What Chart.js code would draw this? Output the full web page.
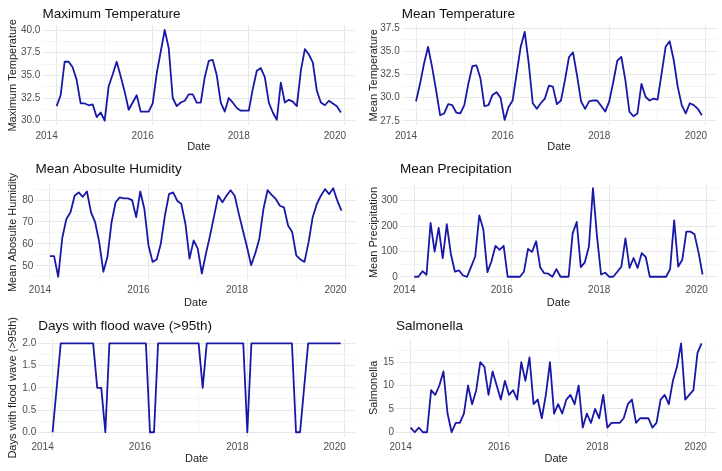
<!DOCTYPE html>
<html>
<head>
<meta charset="utf-8">
<script src="https://cdn.jsdelivr.net/npm/chart.js@4.4.1/dist/chart.umd.min.js"></script>
<style>
  html, body { margin: 0; padding: 0; background: #fff; }
  body { width: 722px; height: 471px; position: relative; overflow: hidden; }
  canvas { position: absolute; }
</style>
</head>
<body>
<canvas id="maxTemp"></canvas>
<canvas id="meanTemp"></canvas>
<canvas id="humidity"></canvas>
<canvas id="precip"></canvas>
<canvas id="flood"></canvas>
<canvas id="salmonella"></canvas>
<script>
// monthly series, Jan 2014 .. Dec 2019
const years = [2014, 2015, 2016, 2017, 2018, 2019];
const months = [];
years.forEach(y => { for (let m = 1; m <= 12; m++) months.push(y + (m - 1) / 12); });

const maxTemp = [31.6, 32.8, 36.5, 36.5, 35.9, 34.5, 31.9, 31.9, 31.7, 31.8, 30.4, 30.9,
  30.0, 33.8, 35.1, 36.5, 34.9, 33.2, 31.2, 32.0, 32.8, 31.0, 31.0, 31.0,
  31.9, 35.2, 37.6, 40.0, 38.0, 32.5, 31.6, 32.0, 32.2, 32.9, 32.9, 32.0,
  32.0, 34.8, 36.6, 36.7, 35.0, 32.0, 31.0, 32.5, 32.0, 31.4, 31.1, 31.1,
  31.1, 33.5, 35.5, 35.8, 34.8, 32.0, 30.9, 30.1, 34.2, 32.0, 32.3, 32.1,
  31.6, 35.5, 37.9, 37.3, 36.4, 33.3, 32.0, 31.7, 32.2, 31.9, 31.6, 30.9];

const meanTemp = [29.6, 31.5, 33.7, 35.5, 33.3, 30.8, 28.1, 28.3, 29.3, 29.2, 28.4, 28.3,
  29.2, 31.5, 33.4, 33.5, 32.1, 29.1, 29.2, 30.3, 30.6, 30.0, 27.6, 29.0,
  29.7, 32.6, 35.5, 37.1, 33.7, 29.4, 28.8, 29.4, 29.9, 31.3, 31.2, 29.3,
  29.7, 31.9, 34.4, 34.9, 32.4, 29.6, 28.8, 29.6, 29.7, 29.7, 29.1, 28.5,
  29.6, 31.7, 34.0, 34.4, 31.9, 28.5, 28.0, 28.3, 31.5, 30.1, 29.7, 29.9,
  29.8, 32.6, 35.5, 36.1, 34.1, 31.2, 29.2, 28.3, 29.4, 29.2, 28.8, 28.1];

const humidity = [54.4, 54.4, 45.0, 62.8, 71.4, 74.4, 82.0, 83.5, 81.5, 83.9, 74.4, 69.9,
  60.8, 47.3, 54.1, 69.9, 79.0, 81.2, 80.8, 80.8, 80.0, 72.2, 83.9, 75.9,
  59.3, 51.8, 52.9, 60.1, 72.9, 82.7, 83.5, 79.7, 78.2, 69.1, 53.3, 61.6,
  57.8, 46.5, 55.6, 63.9, 72.9, 82.0, 79.0, 82.0, 84.5, 82.0, 73.7, 66.1,
  58.6, 50.3, 55.6, 62.4, 75.9, 84.5, 82.4, 80.5, 77.4, 76.7, 68.4, 65.4,
  54.8, 52.9, 51.8, 60.8, 72.2, 78.2, 82.0, 85.0, 82.7, 85.4, 79.7, 75.2];

const precip = [0, 0, 22, 8, 212, 99, 193, 73, 207, 90, 20, 25,
  5, 0, 40, 80, 242, 186, 18, 61, 122, 106, 122, 0,
  0, 0, 0, 20, 110, 98, 140, 38, 14, 12, 0, 30,
  0, 0, 0, 171, 216, 38, 57, 119, 349, 158, 9, 16,
  0, 0, 20, 40, 151, 35, 74, 35, 93, 78, 0, 0,
  0, 0, 0, 30, 222, 40, 67, 178, 178, 168, 96, 9];

const floodDays = [0, 1, 2, 2, 2, 2, 2, 2, 2, 2, 2, 1,
  1, 0, 2, 2, 2, 2, 2, 2, 2, 2, 2, 2,
  0, 0, 2, 2, 2, 2, 2, 2, 2, 2, 2, 2,
  2, 1, 2, 2, 2, 2, 2, 2, 2, 2, 2, 2,
  0, 2, 2, 2, 2, 2, 2, 2, 2, 2, 2, 2,
  0, 0, 1, 2, 2, 2, 2, 2, 2, 2, 2, 2];

const salmonella = [1, 0, 1, 0, 0, 9, 8, 10, 13, 4, 0, 2,
  2, 4, 10, 6, 9, 15, 14, 8, 13, 10, 7, 11,
  8, 9, 7, 15, 11, 16, 6, 7, 3, 8, 15, 4,
  6, 4, 7, 8, 6, 10, 1, 4, 2, 5, 3, 8,
  1, 2, 2, 2, 3, 6, 7, 2, 3, 3, 3, 1,
  2, 7, 8, 6, 11, 14, 19, 7, 8, 9, 17, 19];

const LINE = '#1818a8';
Chart.defaults.font.family = '"Liberation Sans", Arial, sans-serif';

// vertical geometry of each row of panels (page pixels)
const rows = [
  { top: 0,   h: 156, plotTop: 25.5,  plotBottom: 125.2, titleY: 14.7,  tickY: 136,   dateY: 147 },
  { top: 156, h: 154, plotTop: 183.8, plotBottom: 281.2, titleY: 169.5, tickY: 290,   dateY: 302.7 },
  { top: 310, h: 161, plotTop: 339,   plotBottom: 436.7, titleY: 326.7, tickY: 447.7, dateY: 458.7 }
];

const panels = [
  { id: 'maxTemp', title: 'Maximum Temperature', yTitle: 'Maximum Temperature', data: maxTemp,
    row: 0, col: 0, yMin: 29.5, yMax: 40.5, major: 2.5, dec: 1, yWidth: 42.4 },
  { id: 'meanTemp', title: 'Mean Temperature', yTitle: 'Mean Temperature', data: meanTemp,
    row: 0, col: 1, yMin: 27.03, yMax: 37.8, major: 2.5, dec: 1, yWidth: 40.7 },
  { id: 'humidity', title: 'Mean Abosulte Humidity', yTitle: 'Mean Abosulte Humidity', data: humidity,
    row: 1, col: 0, yMin: 42.98, yMax: 87.42, major: 10, dec: 0, yWidth: 35.4 },
  { id: 'precip', title: 'Mean Precipitation', yTitle: 'Mean Precipitation', data: precip,
    row: 1, col: 1, yMin: -17.45, yMax: 366.45, major: 100, dec: 0, yWidth: 38.9 },
  { id: 'flood', title: 'Days with flood wave (>95th)', yTitle: 'Days with flood wave (>95th)', data: floodDays,
    row: 2, col: 0, yMin: -0.1, yMax: 2.1, major: 0.5, dec: 1, yWidth: 38.2 },
  { id: 'salmonella', title: 'Salmonella', yTitle: 'Salmonella', data: salmonella,
    row: 2, col: 1, yMin: -0.95, yMax: 19.95, major: 5, dec: 0, yWidth: 35.1 }
];

function onStep(v, step) {
  return Math.abs(v / step - Math.round(v / step)) < 1e-6;
}

function makeChart(p) {
  const r = rows[p.row];
  const cv = document.getElementById(p.id);
  cv.width = 361;
  cv.height = r.h;
  cv.style.left = (p.col * 361) + 'px';
  cv.style.top = r.top + 'px';
  const titleTop = r.titleY - r.top - 8.1;

  new Chart(cv, {
    type: 'line',
    data: {
      datasets: [{
        data: months.map((x, i) => ({ x: x, y: p.data[i] })),
        borderColor: LINE,
        borderWidth: 1.8,
        borderJoinStyle: 'round',
        pointRadius: 0,
        tension: 0,
        fill: false
      }]
    },
    options: {
      responsive: false,
      animation: false,
      layout: { padding: { left: 0, right: 5, top: 0, bottom: 0 } },
      plugins: {
        legend: { display: false },
        tooltip: { enabled: false },
        title: {
          display: true,
          text: p.title,
          align: 'start',
          fullSize: false,
          color: '#111',
          font: { size: 13.5, weight: 'normal' },
          padding: { top: titleTop, bottom: r.plotTop - r.top - titleTop - 16.2 }
        }
      },
      scales: {
        x: {
          type: 'linear',
          min: 2013.704,
          max: 2020.2125,
          border: { display: false },
          grid: {
            drawTicks: false,
            color: ctx => onStep(ctx.tick.value, 2) ? '#e8e8e8' : '#f0f0f0',
            lineWidth: ctx => onStep(ctx.tick.value, 2) ? 1 : 0.7
          },
          ticks: {
            stepSize: 1,
            includeBounds: false,
            autoSkip: false,
            maxRotation: 0,
            labelOffset: -10,
            padding: r.tickY - r.plotBottom - 6,
            color: '#4d4d4d',
            font: { size: 10 },
            callback: v => onStep(v, 2) ? String(v) : ''
          },
          title: {
            display: true,
            text: 'Date',
            color: '#222',
            font: { size: 11 },
            padding: { top: 0, bottom: r.top + r.h - r.dateY - 6.6 }
          },
          afterFit: s => { s.height = r.top + r.h - r.plotBottom; }
        },
        y: {
          min: p.yMin,
          max: p.yMax,
          border: { display: false },
          grid: {
            drawTicks: false,
            color: ctx => onStep(ctx.tick.value, p.major) ? '#e8e8e8' : '#f0f0f0',
            lineWidth: ctx => onStep(ctx.tick.value, p.major) ? 1 : 0.7
          },
          ticks: {
            stepSize: p.major / 2,
            includeBounds: false,
            autoSkip: false,
            padding: 2,
            color: '#4d4d4d',
            font: { size: 10 },
            callback: v => onStep(v, p.major) ? v.toFixed(p.dec) : ''
          },
          title: {
            display: true,
            text: p.yTitle,
            color: '#222',
            font: { size: 11 },
            padding: { top: 6, bottom: 0 }
          },
          afterFit: s => { s.width = p.yWidth; }
        }
      }
    }
  });
}

panels.forEach(makeChart);
</script>
</body>
</html>
